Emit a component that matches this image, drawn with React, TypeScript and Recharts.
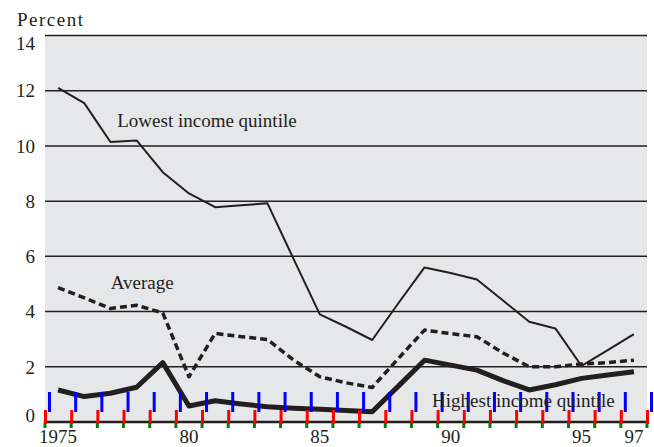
import React from 'react';
import { LineChart, Line, XAxis, YAxis, CartesianGrid, ReferenceDot } from 'recharts';

const years = [1975, 1976, 1977, 1978, 1979, 1980, 1981, 1982, 1983, 1984, 1985, 1986, 1987, 1988, 1989, 1990, 1991, 1992, 1993, 1994, 1995, 1996, 1997];
const lowest = [12.1, 11.55, 10.14, 10.2, 9.05, 8.28, 7.78, 7.85, 7.92, 5.9, 3.9, 3.45, 2.97, 4.3, 5.6, 5.4, 5.16, 4.4, 3.63, 3.39, 2.03, 2.6, 3.18];
const average = [4.87, 4.5, 4.11, 4.23, 3.95, 1.64, 3.21, 3.09, 2.99, 2.24, 1.64, 1.42, 1.25, 2.3, 3.33, 3.2, 3.09, 2.5, 2.0, 2.0, 2.1, 2.15, 2.24];
const highest = [1.16, 0.92, 1.04, 1.26, 2.15, 0.58, 0.77, 0.65, 0.55, 0.5, 0.46, 0.42, 0.37, 1.3, 2.24, 2.06, 1.88, 1.5, 1.16, 1.35, 1.58, 1.7, 1.82];
const xLabelYears = [1975, 1980, 1985, 1990, 1995, 1997];
const xLabelTexts = ['1975', '80', '85', '90', '95', '97'];
const yTicks = [0, 2, 4, 6, 8, 10, 12, 14];
const tickBoundaries = [...years.map((y) => y - 0.5), 1997.5];

const data = years.map((y, i) => ({ year: y, lowest: lowest[i], average: average[i], highest: highest[i] }));

const FONT = '"Liberation Serif", serif';
const INK = '#231f20';
const W = 654;
const H = 447;
const M = { top: 35.5, right: 7, bottom: 0, left: 0 };
const Y_AXIS_W = 45;
const X_AXIS_H = 25;

const YTick = (props: any) => {
  const { x, y, payload } = props;
  const v = payload.value;
  const shift = v === 14 ? 8 : v === 0 ? -7 : 0;
  return (
    <text x={x} y={y + shift} dy="0.355em" textAnchor="end" fontFamily={FONT} fontSize={19} fill={INK}>
      {v}
    </text>
  );
};

const XTick = (props: any) => {
  const { x, y } = props;
  return <rect x={x - 1} y={y - 20} width={3} height={14} fill="red" />;
};

const makeXLabel = (text: string) => (props: any) => {
  const vb = props.viewBox || {};
  return (
    <text x={vb.x} y={vb.y + 8} dy="0.71em" textAnchor="middle" fontFamily={FONT} fontSize={19} fill={INK}>
      {text}
    </text>
  );
};

const TickMark = (props: any) => {
  const vb = props.viewBox || {};
  return <rect x={vb.x + 3} y={vb.y - 30} width={3} height={20} fill="blue" />;
};

const makeLabel = (text: string) => (props: any) => {
  const vb = props.viewBox || {};
  return (
    <text x={vb.x} y={vb.y} textAnchor="start" fontFamily={FONT} fontSize={19} fill={INK}>
      {text}
    </text>
  );
};

const PercentLabel = (props: any) => {
  const vb = props.viewBox || {};
  return (
    <text x={vb.x + 17} y={vb.y - 9.5} textAnchor="start" fontFamily={FONT} fontSize={19} fill={INK} letterSpacing={1.5}>
      Percent
    </text>
  );
};

export default function App() {
  return (
    <div style={{ position: 'absolute', left: 0, top: 0, width: W, height: H, background: '#ffffff' }}>
      <div
        style={{
          position: 'absolute',
          left: M.left + Y_AXIS_W,
          top: M.top,
          width: W - M.left - Y_AXIS_W - M.right,
          height: H - M.top - M.bottom - X_AXIS_H,
          background: '#e6e7e8',
        }}
      />
      <div style={{ position: 'absolute', left: 0, top: 0 }}>
        <LineChart width={W} height={H} data={data} margin={M}>
          <CartesianGrid vertical={false} stroke={INK} strokeWidth={1.5} fill="none" />
          <XAxis
            dataKey="year"
            type="number"
            domain={[1974.5, 1997.5]}
            ticks={tickBoundaries}
            tick={<XTick />}
            tickSize={6}
            tickLine={{ stroke: 'green', strokeWidth: 3 }}
            axisLine={{ stroke: INK, strokeWidth: 2.5 }}
            height={X_AXIS_H}
            interval={0}
            allowDataOverflow
          />
          <YAxis
            type="number"
            domain={[0, 14]}
            ticks={yTicks}
            tick={<YTick />}
            tickLine={false}
            axisLine={false}
            width={Y_AXIS_W}
            tickMargin={4}
            interval={0}
            label={{ content: <PercentLabel /> }}
          />
          <Line type="linear" dataKey="lowest" stroke={INK} strokeWidth={2} dot={false} isAnimationActive={false} strokeLinejoin="round" />
          <Line type="linear" dataKey="average" stroke={INK} strokeWidth={3.5} strokeDasharray="7 4" dot={false} isAnimationActive={false} strokeLinejoin="round" />
          <Line type="linear" dataKey="highest" stroke={INK} strokeWidth={5} dot={false} isAnimationActive={false} strokeLinejoin="round" />
          {tickBoundaries.map((b) => (
            <ReferenceDot key={`t${b}`} x={b} y={0} r={0} stroke="none" fill="none" ifOverflow="visible" label={{ content: <TickMark /> }} />
          ))}
          {xLabelYears.map((yr, i) => (
            <ReferenceDot key={yr} x={yr} y={0} r={0} stroke="none" fill="none" label={{ content: makeXLabel(xLabelTexts[i]) }} />
          ))}
          <ReferenceDot x={1977.26} y={10.68} r={0} stroke="none" fill="none" label={{ content: makeLabel('Lowest income quintile') }} />
          <ReferenceDot x={1977.01} y={4.81} r={0} stroke="none" fill="none" label={{ content: makeLabel('Average') }} />
          <ReferenceDot x={1989.29} y={0.55} r={0} stroke="none" fill="none" label={{ content: makeLabel('Highest income quintile') }} />
        </LineChart>
      </div>
    </div>
  );
}
